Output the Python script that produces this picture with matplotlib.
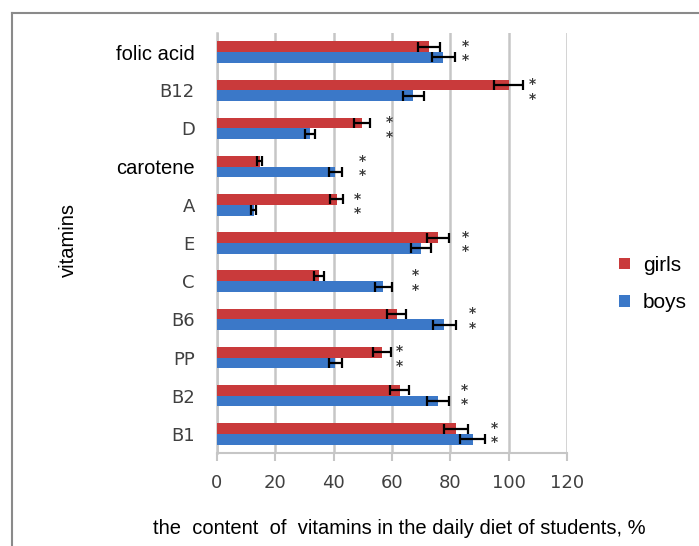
import numpy as np
import matplotlib
matplotlib.use("Agg")
import matplotlib.pyplot as plt
from matplotlib.lines import Line2D
from matplotlib.patches import Patch

# Vitamin content in the daily diet of students, % of norm (listed top to bottom)
vitamins = ["folic acid", "B12", "D", "carotene", "A", "E", "C", "B6", "PP", "B2", "B1"]
girls = [72.7, 100.0, 49.6, 14.6, 41.0, 75.8, 34.9, 61.6, 56.7, 62.6, 81.9]
girls_err = [3.7, 5.0, 2.7, 0.8, 2.3, 3.9, 1.8, 3.3, 3.1, 3.3, 4.2]
boys = [77.6, 67.3, 31.8, 40.6, 12.6, 69.9, 57.0, 77.9, 40.6, 75.8, 87.6]
boys_err = [4.0, 3.5, 1.8, 2.2, 0.9, 3.5, 3.0, 4.0, 2.2, 3.9, 4.4]
# where the significance marks (*) sit along the value axis
sig_x = [85.3, 108.0, 59.0, 50.0, 48.0, 85.0, 68.0, 87.6, 62.6, 84.7, 95.0]
x_ticks = [0, 20, 40, 60, 80, 100, 120]

RED = "#c93a3b"
BLUE = "#3b78c8"
GRID = "#c6c6c6"
LABEL = "#404040"

fig = plt.figure(figsize=(6.99, 5.46), dpi=100)
ax = fig.add_axes([217 / 699, 1 - 453 / 546, 350 / 699, 420 / 546])

n = len(vitamins)
pos = np.arange(n)[::-1].astype(float)  # first item at the top
h = 0.28

ax.barh(pos + h / 2, girls, height=h, color=RED, zorder=3, label="girls")
ax.barh(pos - h / 2, boys, height=h, color=BLUE, zorder=3, label="boys")
ax.errorbar(girls, pos + h / 2, xerr=girls_err, fmt="none", ecolor="black",
            elinewidth=1.6, capsize=3.5, capthick=1.6, zorder=4)
ax.errorbar(boys, pos - h / 2, xerr=boys_err, fmt="none", ecolor="black",
            elinewidth=1.6, capsize=3.5, capthick=1.6, zorder=4)

# two stacked significance asterisks per vitamin
for p, sx in zip(pos, sig_x):
    for dy in (0.2, -0.18):
        ax.text(sx, p + dy, "*", ha="center", va="center_baseline",
                fontsize=10, fontweight="bold", color="#3a3a3a",
                family="DejaVu Sans", zorder=5)

ax.set_xlim(0, 120)
ax.set_ylim(-0.5, n - 0.5)
ax.set_xticks(x_ticks)
ax.set_xticklabels([str(t) for t in x_ticks], family="DejaVu Sans",
                   fontsize=13, color=LABEL)
ax.set_yticks(pos)
ax.set_yticklabels(vitamins)
for lbl, name in zip(ax.get_yticklabels(), vitamins):
    if len(name) > 3:
        lbl.set_family("Liberation Sans")
        lbl.set_fontsize(14.5)
        lbl.set_color("black")
    else:
        lbl.set_family("DejaVu Sans")
        lbl.set_fontsize(13)
        lbl.set_color(LABEL)

ax.grid(axis="x", color=GRID, linewidth=1.8, zorder=0)
ax.set_axisbelow(True)
for side in ("top", "right"):
    ax.spines[side].set_visible(False)
ax.spines["left"].set_color(GRID)
ax.spines["left"].set_linewidth(1.8)
ax.spines["bottom"].set_color(GRID)
ax.spines["bottom"].set_linewidth(1.5)
ax.tick_params(axis="x", direction="out", length=6, width=1.5, color=GRID, pad=9)
ax.tick_params(axis="y", length=0, pad=16)

fig.text(399 / 699, 1 - 528 / 546,
         "the  content  of  vitamins in the daily diet of students, %",
         ha="center", va="center", family="Liberation Sans", fontsize=14.5)
fig.text(68 / 699, 1 - 240 / 546, "vitamins", rotation=90, ha="center",
         va="center", family="Liberation Sans", fontsize=14.5)

handles = [Patch(facecolor=RED), Patch(facecolor=BLUE)]
fig.legend(handles, ["girls", "boys"], loc="center left",
           bbox_to_anchor=(619 / 699, 1 - 284 / 546), frameon=False,
           prop={"family": "Liberation Sans", "size": 15},
           handlelength=0.55, handleheight=0.45, handletextpad=0.6,
           labelspacing=0.9, borderpad=0, borderaxespad=0)

# outer frame (left and top edges)
fig.add_artist(Line2D([12 / 699, 12 / 699], [0, 1 - 13 / 546],
                      transform=fig.transFigure, color="#8a8a8a", linewidth=1.5))
fig.add_artist(Line2D([12 / 699, 1], [1 - 13 / 546, 1 - 13 / 546],
                      transform=fig.transFigure, color="#8a8a8a", linewidth=1.5))

fig.savefig("out.png", dpi=100)
